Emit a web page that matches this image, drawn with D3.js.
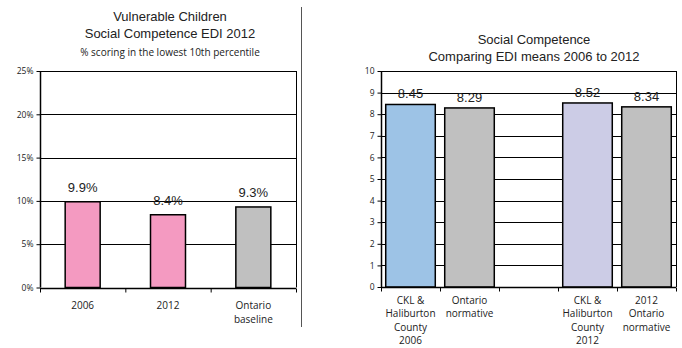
<!DOCTYPE html>
<html><head><meta charset="utf-8">
<script src="https://cdn.jsdelivr.net/npm/d3@7"></script>
<style>body{margin:0;background:#fff}svg{display:block}text{font-family:"Liberation Sans",Arial,sans-serif}text.os{font-family:"Open Sans",sans-serif}</style>
</head><body>
<svg id="c" width="682" height="348"></svg>
<script>
// Left chart data
const leftCategories = [["2006"], ["2012"], ["Ontario", "baseline"]];
const leftValues = [9.9, 8.4, 9.3];
const leftLabels = ["9.9%", "8.4%", "9.3%"];
const leftColors = ["#F49AC1", "#F49AC1", "#C0C0C0"];
const leftTicks = [0, 5, 10, 15, 20, 25];
const leftTitle = ["Vulnerable Children", "Social Competence EDI 2012"];
const leftSubtitle = "% scoring in the lowest 10th percentile";

// Right chart data
const rightCategories = [["CKL &", "Haliburton", "County", "2006"], ["Ontario", "normative"], [], ["CKL &", "Haliburton", "County", "2012"], ["2012", "Ontario", "normative"]];
const rightValues = [8.45, 8.29, null, 8.52, 8.34];
const rightLabels = ["8.45", "8.29", "", "8.52", "8.34"];
const rightColors = ["#9DC3E6", "#C0C0C0", "none", "#CCCCE6", "#C0C0C0"];
const rightTicks = [0, 1, 2, 3, 4, 5, 6, 7, 8, 9, 10];
const rightTitle = ["Social Competence", "Comparing EDI means 2006 to 2012"];

const svg = d3.select("#c");

function drawChart(opt) {
  const g = svg.append("g");
  const x = d3.scaleBand().domain(d3.range(opt.values.length)).range([opt.x0, opt.x1]).paddingInner(0).paddingOuter(0);
  const y = d3.scaleLinear().domain(opt.domain).range([opt.y0, opt.y1]);
  g.selectAll(".grid").data(opt.ticks).join("line")
    .attr("x1", opt.x0).attr("x2", opt.x1)
    .attr("y1", d => Math.round(y(d)) + 0.5).attr("y2", d => Math.round(y(d)) + 0.5)
    .attr("stroke", "#000").attr("stroke-width", 1);
  g.append("line").attr("x1", opt.x1 + 0.5).attr("x2", opt.x1 + 0.5).attr("y1", y(opt.domain[1])).attr("y2", y(0)).attr("stroke", "#000");
  const bw = x.bandwidth() * opt.barFrac;
  const pts = opt.values.map((v, i) => ({v, i})).filter(d => d.v != null);
  g.selectAll(".bar").data(pts).join("rect")
    .attr("x", d => x(d.i) + (x.bandwidth() - bw) / 2)
    .attr("width", bw)
    .attr("y", d => y(d.v))
    .attr("height", d => y(0) - y(d.v))
    .attr("fill", d => opt.colors[d.i]).attr("stroke", "#000").attr("stroke-width", 1.5);
  g.selectAll(".lab").data(pts).join("text")
    .attr("x", d => x(d.i) + x.bandwidth() / 2)
    .attr("y", d => y(d.v) - opt.labelOffset)
    .attr("text-anchor", "middle").attr("font-size", 13).attr("fill", "#222")
    .text(d => opt.labels[d.i]);
  const ya = g.append("g").attr("transform", `translate(${opt.x0 + 0.5},0)`)
    .call(d3.axisLeft(y).tickValues(opt.ticks).tickSize(4).tickFormat(opt.fmt));
  ya.select(".domain").attr("stroke", "#000").attr("stroke-width", 1.5).attr("d", `M0,${y(opt.domain[1])}V${y(0)}`);
  ya.selectAll("text").attr("class", "os").attr("font-size", 8.5).attr("fill", "#222");
  const xb = d3.scaleLinear().domain([0, opt.values.length]).range([opt.x0, opt.x1]);
  const xa = g.append("g").attr("transform", `translate(0,${Math.round(y(0)) + 0.5})`)
    .call(d3.axisBottom(xb).tickValues(d3.range(opt.values.length + 1)).tickSize(4).tickFormat(""));
  xa.select(".domain").attr("stroke-width", 1.5).attr("d", `M${opt.x0},0H${opt.x1}`);
  opt.categories.forEach((lines, i) => {
    lines.forEach((ln, j) => {
      g.append("text").attr("class", "os").attr("x", x(i) + x.bandwidth() / 2).attr("y", opt.catY + j * opt.catLH)
        .attr("text-anchor", "middle").attr("font-size", 10).attr("fill", "#222")
        .text(ln);
    });
  });
  opt.title.forEach((t, j) => {
    g.append("text").attr("x", opt.tx).attr("y", opt.ty + j * opt.tLH).attr("text-anchor", "middle")
      .attr("font-size", 13).attr("fill", "#222").text(t);
  });
  if (opt.subtitle) {
    g.append("text").attr("class", "os").attr("x", opt.tx).attr("y", opt.subY).attr("text-anchor", "middle")
      .attr("font-size", 10).attr("fill", "#222").text(opt.subtitle);
  }
}

drawChart({
  x0: 40, x1: 296, y0: 287.5, y1: 71, domain: [0, 25],
  values: leftValues, labels: leftLabels, colors: leftColors, ticks: leftTicks, categories: leftCategories,
  fmt: d => d + "%", barFrac: 0.41, labelOffset: 10, catY: 309, catLH: 14,
  title: leftTitle, subtitle: leftSubtitle, tx: 170, ty: 21, tLH: 17, subY: 56
});

drawChart({
  x0: 381, x1: 676, y0: 287, y1: 71, domain: [0, 10],
  values: rightValues, labels: rightLabels, colors: rightColors, ticks: rightTicks, categories: rightCategories,
  fmt: d => d, barFrac: 0.84, labelOffset: 6, catY: 304, catLH: 13.3,
  title: rightTitle, tx: 534, ty: 44, tLH: 17
});

svg.append("line").attr("x1", 301.5).attr("x2", 301.5).attr("y1", 7).attr("y2", 327).attr("stroke", "#555").attr("stroke-width", 1);
</script>
</body></html>
